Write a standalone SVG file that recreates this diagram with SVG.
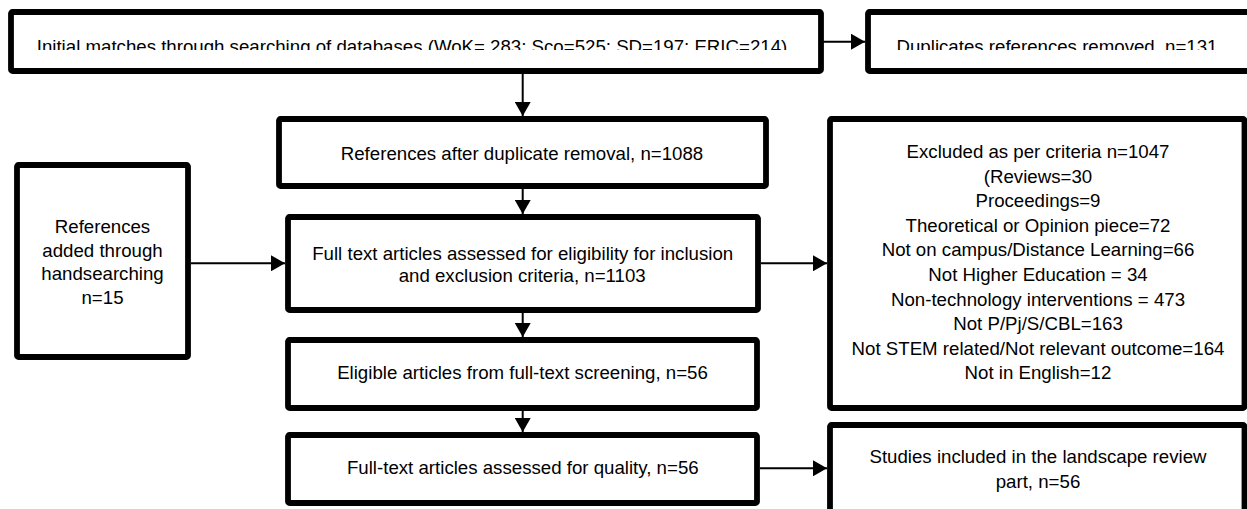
<svg xmlns="http://www.w3.org/2000/svg" width="1247" height="509" viewBox="0 0 1247 509">
<style>
  .box { fill: #fff; stroke: #000; stroke-width: 5.8; }
  .lbl { font-family: "Liberation Sans", Arial, sans-serif; font-size: 18.67px; fill: #000; text-anchor: middle; }
  .con { stroke: #000; stroke-width: 2; fill: none; marker-end: url(#arr); }
</style>
<defs>
  <marker id="arr" viewBox="0 0 14 16" refX="14" refY="8" markerWidth="14" markerHeight="16" markerUnits="userSpaceOnUse" orient="auto">
    <path d="M0,0 L14,8 L0,16 z" fill="#000"/>
  </marker>
  <clipPath id="clipTop">
    <rect x="0" y="15" width="1247" height="35"/>
  </clipPath>
</defs>
<rect width="1247" height="509" fill="#fff"/>

<g id="connectors">
  <line class="con" x1="821" y1="41.7" x2="865" y2="41.7"/>
  <line class="con" x1="522.7" y1="74" x2="522.7" y2="116"/>
  <line class="con" x1="522.7" y1="189" x2="522.7" y2="214"/>
  <line class="con" x1="191" y1="263.3" x2="285" y2="263.3"/>
  <line class="con" x1="761" y1="263.3" x2="827" y2="263.3"/>
  <line class="con" x1="522.7" y1="313" x2="522.7" y2="337"/>
  <line class="con" x1="522.7" y1="411" x2="522.7" y2="432"/>
  <line class="con" x1="760" y1="468.3" x2="827" y2="468.3"/>
</g>

<g id="node-initial">
  <rect class="box" x="11" y="12" width="810" height="59" rx="1.5"/>
  <text class="lbl" x="412" y="52.7" clip-path="url(#clipTop)">Initial matches through searching of databases (WoK= 283; Sco=525; SD=197; ERIC=214)</text>
</g>

<g id="node-duplicates">
  <rect class="box" x="868" y="12" width="390" height="59" rx="1.5"/>
  <text class="lbl" x="1057" y="52.7" clip-path="url(#clipTop)">Duplicates references removed, n=131</text>
</g>

<g id="node-after-dup">
  <rect class="box" x="279" y="119" width="487" height="67" rx="1.5"/>
  <text class="lbl" x="522" y="160">References after duplicate removal, n=1088</text>
</g>

<g id="node-handsearch">
  <rect class="box" x="17" y="165" width="171" height="192" rx="1.5"/>
  <text class="lbl" x="102.5" y="232.7">References</text>
  <text class="lbl" x="102.5" y="256.5">added through</text>
  <text class="lbl" x="102.5" y="280.1">handsearching</text>
  <text class="lbl" x="102.5" y="303.6">n=15</text>
</g>

<g id="node-fulltext">
  <rect class="box" x="288" y="217" width="470" height="93" rx="1.5"/>
  <text class="lbl" x="522.7" y="260">Full text articles assessed for eligibility for inclusion</text>
  <text class="lbl" x="522.2" y="281.7">and exclusion criteria, n=1103</text>
</g>

<g id="node-excluded">
  <rect class="box" x="830" y="119" width="414.5" height="289" rx="1.5"/>
  <text class="lbl" x="1038" y="158">Excluded as per criteria n=1047</text>
  <text class="lbl" x="1038" y="182.6">(Reviews=30</text>
  <text class="lbl" x="1038" y="207.2">Proceedings=9</text>
  <text class="lbl" x="1038" y="231.8">Theoretical or Opinion piece=72</text>
  <text class="lbl" x="1038" y="256.4">Not on campus/Distance Learning=66</text>
  <text class="lbl" x="1038" y="281">Not Higher Education = 34</text>
  <text class="lbl" x="1038" y="305.6">Non-technology interventions = 473</text>
  <text class="lbl" x="1038" y="330.2">Not P/Pj/S/CBL=163</text>
  <text class="lbl" x="1038" y="354.8">Not STEM related/Not relevant outcome=164</text>
  <text class="lbl" x="1038" y="379.4">Not in English=12</text>
</g>

<g id="node-eligible">
  <rect class="box" x="288" y="340" width="469" height="68" rx="1.5"/>
  <text class="lbl" x="522.5" y="379.4">Eligible articles from full-text screening, n=56</text>
</g>

<g id="node-quality">
  <rect class="box" x="288" y="435" width="469" height="68" rx="1.5"/>
  <text class="lbl" x="522.8" y="474">Full-text articles assessed for quality, n=56</text>
</g>

<g id="node-included">
  <rect class="box" x="830" y="425" width="414.5" height="110" rx="1.5"/>
  <text class="lbl" x="1038" y="463.4">Studies included in the landscape review</text>
  <text class="lbl" x="1038" y="487.7">part, n=56</text>
</g>
</svg>
